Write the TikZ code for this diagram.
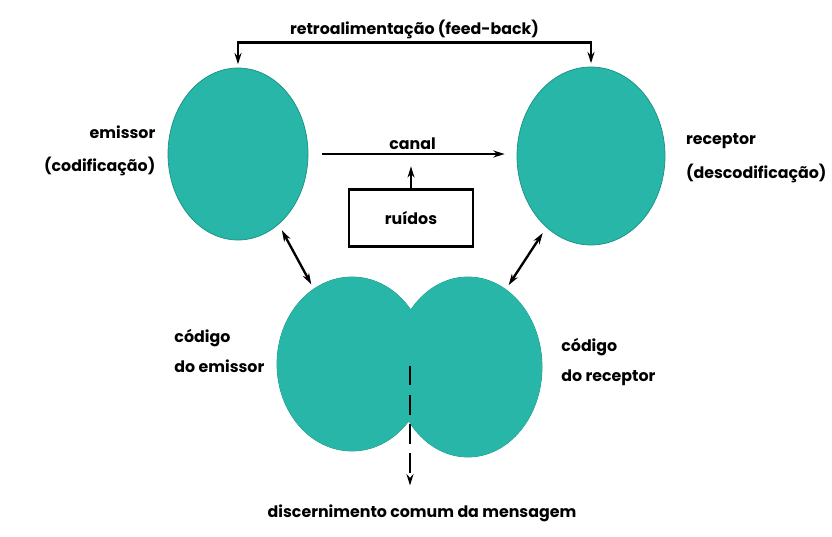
\documentclass[tikz,border=0pt]{standalone}
\usepackage{fontspec}
\setmainfont{Poppins}
\usetikzlibrary{shapes.geometric,calc,arrows.meta}

\definecolor{tealfill}{RGB}{40,182,168}
\definecolor{tealedge}{RGB}{25,145,130}

\begin{document}
\begin{tikzpicture}[>={Stealth[length=3.4mm, width=2.1mm]}, line width=2pt, font=\fontsize{13.5}{15}\selectfont\bfseries]

	% Estilos
	\tikzset{
		blob/.style={ellipse, draw=tealedge, line width=0.6pt, fill=tealfill, inner sep=0pt},
		lbl/.style={inner sep=1pt},
		boxnode/.style={draw, rectangle, minimum width=3.72cm, minimum height=1.71cm}
	}

	% Margens da figura
	\useasboundingbox (0,0) rectangle (24.96,-16.11);

	% Emissor e receptor
	\node[blob, minimum width=4.2cm, minimum height=5.16cm] (emi) at (7.14,-4.62) {};
	\node[blob, minimum width=4.44cm, minimum height=5.34cm] (rec) at (17.73,-4.68) {};

	% Codigos (dois lobulos sobrepostos)
	\node[blob, minimum width=4.5cm, minimum height=5.22cm] (ce) at (10.56,-10.92) {};
	\node[blob, minimum width=4.44cm, minimum height=5.4cm] (cr) at (14.04,-11.01) {};
	% Preencher de novo para esconder os contornos internos
	\fill[tealfill] (ce.center) ellipse[x radius=2.25cm, y radius=2.61cm];
	\fill[tealfill] (cr.center) ellipse[x radius=2.22cm, y radius=2.7cm];

	% Ruidos
	\node[boxnode] (noise) at (12.33,-6.54) {ruídos};

	% Textos laterais
	\node[lbl, align=right, anchor=east] (emitxt) at ([xshift=-0.3cm, yshift=0.1cm]emi.west)
		{emissor\\[13pt](codificação)};
	\node[lbl, align=left, anchor=west] (rectxt) at ([xshift=0.55cm, yshift=-0.07cm]rec.east)
		{receptor\\[12pt](descodificação)};
	\node[lbl, align=left, anchor=east] (cetxt) at ([xshift=-0.3cm, yshift=0.39cm]ce.west)
		{código\\[11pt]do emissor};
	\node[lbl, align=left, anchor=west] (crtxt) at ([xshift=0.5cm, yshift=0.15cm]cr.east)
		{código\\[11pt]do receptor};

	% Retroalimentacao
	\draw[<->, shorten <=0.1cm, shorten >=0.1cm] (emi.north) -- ++(0,0.75) -| (rec.north)
		node[pos=0.25, above, lbl, yshift=1pt] (fbtxt) {retroalimentação (feed-back)};

	% Canal
	\draw[->, shorten <=0.42cm, shorten >=0.36cm] (emi.east) -- (emi.east -| rec.west)
		node[midway, above, lbl, yshift=2pt] (canaltxt) {canal};
	\draw[->, line width=1.4pt] (noise.north) -- ++(0,0.66);

	% Setas duplas entre os circulos
	\draw[<->, shorten <=0.2cm, shorten >=0.15cm] (emi.-60) -- (ce.117);
	\draw[<->, shorten <=0.2cm, shorten >=0.15cm] (rec.-122) -- (cr.64);

	% Mensagem comum
	\node[lbl] (msg) at (12.66,-15.39) {discernimento comum da mensagem};
	\coordinate (mid) at ($(ce.center)!0.5!(cr.center)$);
	\draw[->, dash pattern=on 17pt off 8pt, shorten >=0.5cm] (mid) -- (mid |- msg.north);

\end{tikzpicture}
\end{document}
